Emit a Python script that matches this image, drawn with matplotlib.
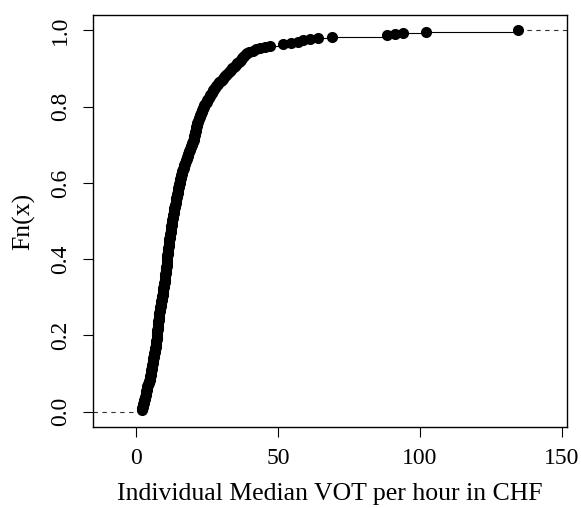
import numpy as np
import matplotlib
matplotlib.use("Agg")
import matplotlib.pyplot as plt

plt.rcParams['font.family'] = ['Liberation Serif', 'DejaVu Serif']

# individual median VOT values (CHF per hour)
vot = [
    2.0, 2.1, 2.3, 2.4, 2.5, 2.6, 2.8, 2.9, 3.0, 3.1, 3.2, 3.3, 3.4, 3.5, 3.6,
    3.7, 3.8, 3.9, 4.0, 4.1, 4.3, 4.4, 4.6, 4.7, 4.9,
    4.9, 5.0, 5.1, 5.2, 5.2, 5.3, 5.4, 5.5, 5.6, 5.6, 5.7, 5.8, 5.9, 6.0, 6.0,
    6.1, 6.2, 6.3, 6.4, 6.4, 6.5, 6.6, 6.7, 6.8, 6.9, 7.0,
    7.0, 7.1, 7.1, 7.2, 7.2, 7.3, 7.3, 7.4, 7.4, 7.5, 7.5, 7.6, 7.6, 7.7, 7.7,
    7.7, 7.8, 7.8, 7.9, 7.9, 8.0, 8.0, 8.1, 8.1, 8.2, 8.2,
    8.3, 8.4, 8.5, 8.5, 8.6, 8.7, 8.8, 8.8, 8.9, 9.0, 9.1, 9.1, 9.2, 9.3, 9.4,
    9.4, 9.5, 9.6, 9.7, 9.7, 9.8, 9.9, 10.0, 10.0, 10.1, 10.2,
    10.2, 10.3, 10.3, 10.4, 10.4, 10.5, 10.5, 10.6, 10.6, 10.7, 10.7, 10.8,
    10.8, 10.9, 10.9, 11.0, 11.0, 11.0, 11.1, 11.1, 11.2, 11.2, 11.3, 11.3,
    11.4, 11.4, 11.5, 11.5, 11.6, 11.6, 11.7, 11.7,
    11.8, 11.9, 11.9, 12.0, 12.1, 12.2, 12.2, 12.3, 12.4, 12.5, 12.5, 12.6,
    12.7, 12.8, 12.8, 12.9, 13.0, 13.0, 13.1, 13.2, 13.3, 13.3, 13.4, 13.5,
    13.6, 13.7,
    13.8, 13.9, 14.0, 14.1, 14.2, 14.3, 14.3, 14.4, 14.5, 14.6, 14.7, 14.8,
    14.9, 15.0, 15.0, 15.1, 15.2, 15.3, 15.4, 15.5, 15.6, 15.7, 15.8, 15.9,
    16.0, 16.1,
    16.2, 16.4, 16.5, 16.7, 16.8, 17.0, 17.1, 17.3, 17.4, 17.6, 17.7, 17.9,
    18.0, 18.2, 18.3, 18.5, 18.6, 18.8, 18.9, 19.1, 19.3, 19.4, 19.6, 19.8,
    20.0, 20.2,
    20.3, 20.4, 20.5, 20.6, 20.7, 20.8, 20.9, 21.0, 21.1, 21.2, 21.3, 21.4,
    21.5, 21.6, 21.8, 21.9,
    22.1, 22.3, 22.5, 22.7, 22.9, 23.0, 23.2, 23.4, 23.6, 23.8, 24.0, 24.1, 24.3,
    24.6, 24.9, 25.1, 25.4, 25.7, 26.0, 26.2, 26.5, 26.8, 27.0, 27.3, 27.5, 27.8,
    28.2, 28.6, 29.0, 29.4, 29.8, 30.2, 30.6, 31.0, 31.4, 31.8, 32.2, 32.7, 33.1,
    33.5, 34.0, 34.4, 34.8, 35.3, 35.7, 36.2, 36.6,
    37.0, 37.4, 37.8, 38.2, 38.6, 39.0,
    40.0, 41.2, 42.4, 43.7, 45.4, 47.2, 51.8, 54.5, 57.0, 59.0, 61.3, 64.2,
    69.1,
    88.5, 91.2, 94.1, 102.3, 134.6,
]

x = np.sort(np.array(vot))
n = len(x)
fn = np.arange(1, n + 1) / n

xlim = (-15.1, 151.8)

fig = plt.figure(figsize=(5.81, 5.08), dpi=100)
ax = fig.add_axes([0.160, 0.1594, 0.816, 0.811])

# steps
ax.hlines(fn[:-1], x[:-1], x[1:], colors='black', linewidth=0.8)
ax.hlines(0, xlim[0], x[0], colors='#333333', linewidth=0.8, linestyles=(0, (4, 4)))
ax.hlines(1, x[-1], xlim[1], colors='#333333', linewidth=0.8, linestyles=(0, (4, 4)))
ax.plot(x, fn, 'o', color='black', markersize=8, markeredgewidth=0)

ax.set_xlim(*xlim)
ax.set_ylim(-0.04, 1.04)
ax.set_xticks([0, 50, 100, 150])
ax.set_yticks([0.0, 0.2, 0.4, 0.6, 0.8, 1.0])
ax.set_yticklabels(['0.0', '0.2', '0.4', '0.6', '0.8', '1.0'])

ax.tick_params(axis='both', direction='out', length=7, width=0.8, labelsize=17)
ax.tick_params(axis='x', pad=8)
ax.tick_params(axis='y', pad=9)
plt.setp(ax.get_yticklabels(), rotation=90, va='center')

for s in ax.spines.values():
    s.set_linewidth(1.0)

ax.set_xlabel("Individual Median VOT per hour in CHF", fontsize=18.5)
ax.set_ylabel("Fn(x)", fontsize=18.5)
ax.xaxis.set_label_coords(0.5, -0.135)
ax.yaxis.set_label_coords(-0.122, 0.5)

fig.savefig("out.png", dpi=100)
